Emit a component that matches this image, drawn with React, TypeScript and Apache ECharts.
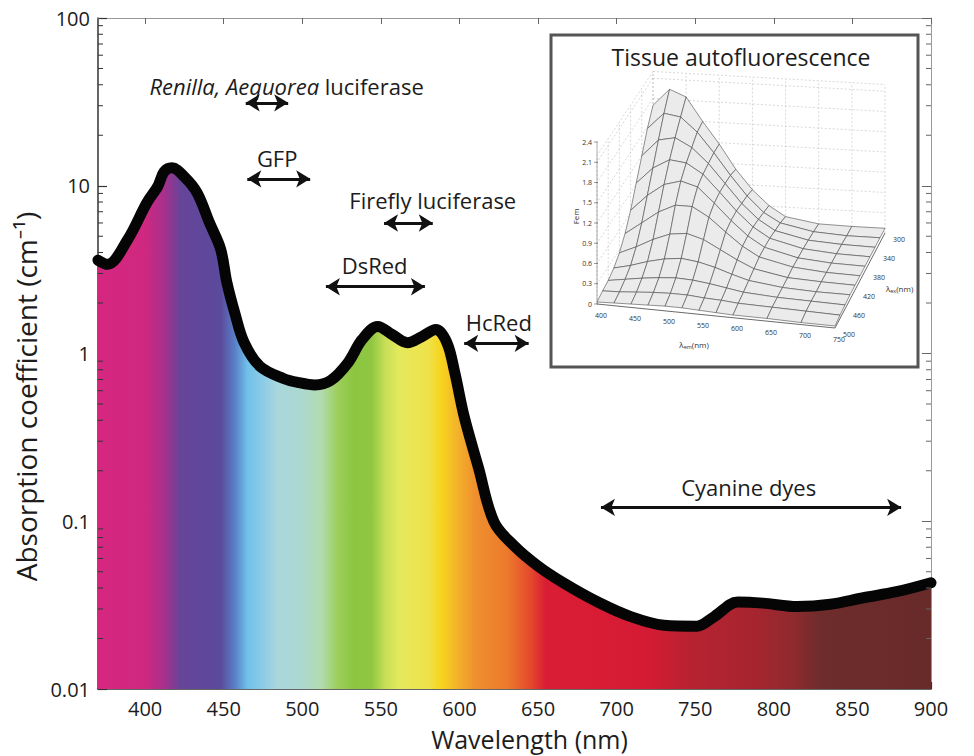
import React, { useEffect, useRef } from 'react';
import * as echarts from 'echarts';

const FONT = '"Open Sans", "Noto Sans", sans-serif';
const INK = '#1c1c1c';

// ---- main absorption curve (wavelength nm, absorption cm^-1) ----
const WAVELENGTH = [370, 376, 389, 401, 408, 412, 417, 425, 433, 441, 448, 452, 457, 463, 473, 488, 498, 508, 518, 529, 538, 548, 557, 567, 576, 585, 592, 597, 603, 612, 622, 635, 650, 666, 688, 709, 730, 751, 762, 777, 793, 815, 836, 857, 878, 900];
const ABSORPTION = [3.6, 3.4, 4.8, 7.9, 9.9, 12.1, 12.8, 11.3, 9.1, 6.0, 4.2, 2.65, 1.75, 1.16, 0.84, 0.71, 0.67, 0.65, 0.69, 0.88, 1.21, 1.45, 1.30, 1.16, 1.26, 1.39, 1.16, 0.77, 0.42, 0.21, 0.099, 0.071, 0.054, 0.043, 0.033, 0.027, 0.024, 0.0237, 0.027, 0.033, 0.0325, 0.031, 0.032, 0.035, 0.038, 0.043];

// ---- spectrum colours under the curve ----
const SPECTRUM_NM = [370, 400, 412, 423, 448, 457, 465, 476, 484, 500, 512, 522, 533, 544, 553, 562, 580, 588, 598, 610, 630, 645, 655, 720, 745, 790, 812, 830, 900];
const SPECTRUM_COLOR = ['#d6277f', '#cf2880', '#a8308c', '#654599', '#5b4a9c', '#5a7fc7', '#6fc0ea', '#8fcde6', '#a9d7dd', '#acd8cf', '#b3dbb0', '#9ccf5e', '#8cc63f', '#8fc743', '#c9df57', '#e5e95c', '#eee24a', '#f7d51f', '#f3b52a', '#ef902e', '#ec7a2c', '#e44a2c', '#d91d34', '#d51b34', '#b92230', '#a4252f', '#8f2a2e', '#6e2c2c', '#682b29'];

// ---- annotations ----
const ARROW_FROM = [464, 465, 552, 515, 603, 690];
const ARROW_TO = [491, 505, 583, 578, 644, 881];
const ARROW_Y = [31.2, 11.0, 6.0, 2.5, 1.15, 0.121];
const LABEL_TEXT = ['{i|Renilla, Aequorea} luciferase', 'GFP', 'Firefly luciferase', 'DsRed', 'HcRed', 'Cyanine dyes'];
const LABEL_X = [490, 484, 583, 546, 625, 784];
const LABEL_Y = [39.4, 14.7, 8.25, 3.39, 1.55, 0.159];

// ---- axis ticks ----
const X_MIN = 370;
const X_MAX = 900;
const Y_MIN = 0.01;
const Y_MAX = 100;
const DECADES = [0.01, 0.1, 1, 10];
const MINOR_MULT = [2, 3, 4, 5, 6, 7, 8, 9];
const MINOR_TICKS = DECADES.flatMap((d) => MINOR_MULT.map((m) => +(d * m).toPrecision(3)));

// ---- inset: tissue autofluorescence surface ----
const EM_POINTS = [400, 425, 450, 475, 500, 525, 550, 575, 600, 650, 700, 750];
const EX_ROWS = [300, 320, 340, 360, 380, 400, 420, 440, 460, 480, 500];
const SURFACE = [
  [1.7, 1.95, 1.85, 1.5, 1.18, 0.82, 0.53, 0.31, 0.16, 0.08, 0.07, 0.07],
  [1.48, 1.72, 1.68, 1.47, 1.18, 0.86, 0.57, 0.34, 0.2, 0.1, 0.07, 0.07],
  [1.2, 1.45, 1.5, 1.37, 1.15, 0.87, 0.59, 0.37, 0.22, 0.11, 0.08, 0.07],
  [0.92, 1.16, 1.3, 1.27, 1.12, 0.87, 0.61, 0.39, 0.24, 0.12, 0.08, 0.07],
  [0.64, 0.88, 1.06, 1.13, 1.06, 0.84, 0.6, 0.39, 0.24, 0.12, 0.08, 0.07],
  [0.42, 0.6, 0.78, 0.9, 0.9, 0.76, 0.56, 0.37, 0.23, 0.12, 0.08, 0.07],
  [0.26, 0.37, 0.5, 0.6, 0.63, 0.56, 0.43, 0.3, 0.19, 0.1, 0.08, 0.07],
  [0.16, 0.22, 0.3, 0.36, 0.39, 0.36, 0.3, 0.22, 0.15, 0.09, 0.07, 0.07],
  [0.1, 0.14, 0.18, 0.21, 0.23, 0.22, 0.19, 0.15, 0.11, 0.08, 0.07, 0.06],
  [0.07, 0.08, 0.1, 0.12, 0.13, 0.13, 0.11, 0.1, 0.08, 0.07, 0.06, 0.05],
  [0.03, 0.04, 0.05, 0.06, 0.07, 0.07, 0.06, 0.05, 0.04, 0.04, 0.03, 0.03],
];
const Z_TICKS = [0, 0.3, 0.6, 0.9, 1.2, 1.5, 1.8, 2.1, 2.4];
const EM_TICKS = [400, 450, 500, 550, 600, 650, 700, 750];
const EX_TICKS = [300, 340, 380, 420, 460, 500];

// inset projection layout (grid units inside the inset box)
const P_BL = [102, 185];
const P_BR = [334, 198];
const P_FL = [46, 269];
const P_FR = [284, 293];
const Z_SCALE = 67.5;
const WALL_TOP = 2.2;

const uOf = (em: number) => (em - 400) / 350;
const tOf = (ex: number) => (ex - 300) / 200;
function project(t: number, u: number, z: number): number[] {
  const x = P_BL[0] + u * (P_BR[0] - P_BL[0]) + t * (P_FL[0] - P_BL[0]) + u * t * (P_FR[0] - P_FL[0] - P_BR[0] + P_BL[0]);
  const y = P_BL[1] + u * (P_BR[1] - P_BL[1]) + t * (P_FL[1] - P_BL[1]) + u * t * (P_FR[1] - P_FL[1] - P_BR[1] + P_BL[1]);
  return [x, y - z * Z_SCALE];
}

function buildOption(): any {
  const stops = SPECTRUM_NM.map((nm, i) => ({ offset: (nm - X_MIN) / (X_MAX - X_MIN), color: SPECTRUM_COLOR[i] }));
  const gradient = new echarts.graphic.LinearGradient(0, 0, 1, 0, stops);

  const yFmt = (v: number) => String(Number(v.toPrecision(2)));
  const xFmt = (v: number) => (Math.round(v) % 50 === 0 ? String(Math.round(v)) : '');

  const wallLine = (a: number[], b: number[], api: any, stroke = '#bdbdbd', dash: any = [2, 2], w = 0.6) => {
    const p = api.coord(a);
    const q = api.coord(b);
    return { type: 'line', shape: { x1: p[0], y1: p[1], x2: q[0], y2: q[1] }, style: { stroke, lineWidth: w, lineDash: dash } };
  };

  const subRich = {
    a: { fontSize: 8, fill: '#333', fontFamily: FONT },
    b: { fontSize: 5.5, fill: '#333', verticalAlign: 'bottom', padding: [5, 0, 0, 0], fontFamily: FONT },
  };

  return {
    animation: false,
    backgroundColor: '#ffffff',
    textStyle: { fontFamily: FONT },
    graphic: [
      {
        type: 'text',
        x: 741,
        y: 57,
        z: 50,
        style: { text: 'Tissue autofluorescence', fontSize: 23, fontFamily: FONT, fill: INK, align: 'center', verticalAlign: 'middle' },
      },
    ],
    grid: [
      { left: 98, top: 18, right: 43, bottom: 66 },
      { left: 551, top: 35, width: 367, height: 332, show: true, backgroundColor: '#ffffff', borderColor: '#555', borderWidth: 3, z: 5 },
    ],
    xAxis: [
      {
        type: 'value', gridIndex: 0, min: X_MIN, max: X_MAX, splitNumber: 10, position: 'bottom',
        name: 'Wavelength (nm)', nameLocation: 'middle', nameGap: 37,
        nameTextStyle: { fontSize: 25, color: INK, fontFamily: FONT, padding: [0, 0, 0, 30] },
        axisLine: { show: true, onZero: false, lineStyle: { color: '#333', width: 1.5 } },
        axisTick: { inside: true, length: 7, lineStyle: { color: '#333', width: 1.2 } },
        axisLabel: { fontSize: 20, color: INK, margin: 9, showMinLabel: false, formatter: xFmt, fontFamily: FONT },
        splitLine: { show: false },
      },
      {
        type: 'value', gridIndex: 0, min: X_MIN, max: X_MAX, splitNumber: 10, position: 'top',
        axisLine: { show: true, onZero: false, lineStyle: { color: '#999', width: 1 } },
        axisTick: { inside: true, length: 6, lineStyle: { color: '#666' } },
        axisLabel: { show: false },
        splitLine: { show: false },
      },
      { type: 'value', gridIndex: 1, min: 0, max: 367, show: false },
    ],
    yAxis: [
      {
        type: 'log', gridIndex: 0, logBase: 10, min: Y_MIN, max: Y_MAX, position: 'left',
        name: 'Absorption coefficient (cm⁻¹)', nameLocation: 'middle', nameGap: 52, nameRotate: 90,
        nameTextStyle: { fontSize: 28, color: INK, fontFamily: FONT, padding: [0, 86, 0, 0] },
        axisLine: { show: true, onZero: false, lineStyle: { color: '#333', width: 1.5 } },
        axisTick: { inside: true, length: 9, lineStyle: { color: '#333', width: 1.2 } },
        axisLabel: { fontSize: 20, color: INK, margin: 8, formatter: yFmt, fontFamily: FONT },
        splitLine: { show: false },
      },
      {
        type: 'log', gridIndex: 0, logBase: 10, min: Y_MIN, max: Y_MAX, position: 'right',
        axisLine: { show: true, onZero: false, lineStyle: { color: '#999', width: 1 } },
        axisTick: { inside: true, length: 9, lineStyle: { color: '#666' } },
        axisLabel: { show: false },
        splitLine: { show: false },
      },
      { type: 'value', gridIndex: 1, min: 0, max: 332, inverse: true, show: false },
    ],
    series: [
      {
        type: 'line',
        xAxisIndex: 0,
        yAxisIndex: 0,
        data: WAVELENGTH.map((w, i) => [w, ABSORPTION[i]]),
        smooth: 0.35,
        symbol: 'none',
        showSymbol: false,
        z: 2,
        lineStyle: { color: '#050505', width: 11, cap: 'round', join: 'round' },
        areaStyle: { origin: 'start', color: gradient, opacity: 1 },
        markLine: {
          silent: true,
          symbol: ['arrow', 'arrow'],
          symbolSize: [13, 14],
          lineStyle: { color: '#111', width: 3, type: 'solid', opacity: 1 },
          label: { show: false },
          emphasis: { disabled: true },
          data: ARROW_FROM.map((f, i) => [
            { coord: [f, ARROW_Y[i]] },
            { coord: [ARROW_TO[i], ARROW_Y[i]] },
          ]),
        },
      },
      {
        type: 'scatter',
        xAxisIndex: 0,
        yAxisIndex: 0,
        silent: true,
        z: 4,
        symbolSize: 1,
        itemStyle: { color: 'rgba(0,0,0,0)', opacity: 1 },
        data: LABEL_TEXT.map((t, i) => ({ value: [LABEL_X[i], LABEL_Y[i]], name: t })),
        label: {
          show: true,
          position: 'inside',
          formatter: '{b}',
          fontSize: 22,
          color: INK,
          opacity: 1,
          fontFamily: FONT,
          rich: { i: { fontStyle: 'italic', fontSize: 22, color: INK, fontFamily: FONT } },
        },
      },
      {
        type: 'custom',
        xAxisIndex: 0,
        yAxisIndex: 0,
        silent: true,
        z: 3,
        clip: false,
        data: MINOR_TICKS.map((v) => [X_MIN, v]),
        renderItem: (_p: any, api: any) => {
          const v = api.value(1);
          const l = api.coord([X_MIN, v]);
          const r = api.coord([X_MAX, v]);
          return {
            type: 'group',
            children: [
              { type: 'line', shape: { x1: l[0], y1: l[1], x2: l[0] + 5, y2: l[1] }, style: { stroke: '#333', lineWidth: 1 } },
              { type: 'line', shape: { x1: r[0] - 5, y1: r[1], x2: r[0], y2: r[1] }, style: { stroke: '#666', lineWidth: 1 } },
            ],
          };
        },
      },
      // inset: box walls, axes, tick labels
      {
        type: 'custom',
        xAxisIndex: 2,
        yAxisIndex: 2,
        silent: true,
        z: 6,
        data: [[0, 0]],
        renderItem: (_p: any, api: any) => {
          const ch: any[] = [];
          EM_TICKS.forEach((em) => {
            const u = uOf(em);
            ch.push(wallLine(project(0, u, 0), project(0, u, WALL_TOP), api));
          });
          Z_TICKS.filter((z) => z <= WALL_TOP).concat([WALL_TOP]).forEach((z) => {
            ch.push(wallLine(project(0, 0, z), project(0, 1, z), api));
            ch.push(wallLine(project(0, 0, z), project(1, 0, z), api));
          });
          EX_TICKS.forEach((ex) => {
            const t = tOf(ex);
            ch.push(wallLine(project(t, 0, 0), project(t, 0, WALL_TOP), api));
          });
          ch.push(wallLine(project(1, 0, 0), project(1, 1, 0), api, '#444', null, 0.8));
          ch.push(wallLine(project(0, 1, 0), project(1, 1, 0), api, '#444', null, 0.8));
          ch.push(wallLine(project(1, 0, 0), project(1, 0, 2.4), api, '#777', null, 0.6));
          Z_TICKS.forEach((z) => {
            const p = api.coord(project(1, 0, z));
            ch.push({ type: 'line', shape: { x1: p[0] - 3, y1: p[1], x2: p[0] + 1, y2: p[1] }, style: { stroke: '#555', lineWidth: 0.6 } });
            ch.push({ type: 'text', x: p[0] - 5, y: p[1], style: { text: String(z), fontSize: 7, fill: '#333', align: 'right', verticalAlign: 'middle', fontFamily: FONT } });
          });
          EM_TICKS.forEach((em) => {
            const p = api.coord(project(1, uOf(em), 0));
            ch.push({ type: 'text', x: p[0] + 4, y: p[1] + 11, style: { text: String(em), fontSize: 7, fill: '#333', align: 'center', verticalAlign: 'middle', fontFamily: FONT } });
          });
          EX_TICKS.forEach((ex) => {
            const p = api.coord(project(tOf(ex), 1, 0));
            ch.push({ type: 'text', x: p[0] + 8, y: p[1] + 6, style: { text: String(ex), fontSize: 7, fill: '#333', align: 'left', verticalAlign: 'middle', fontFamily: FONT } });
          });
          const emName = api.coord(project(1, 0.45, 0));
          ch.push({ type: 'text', x: emName[0] - 10, y: emName[1] + 30, style: { text: '{a|λ}{b|em}{a|(nm)}', rich: subRich, align: 'center', verticalAlign: 'middle' } });
          const exName = api.coord(project(0.5, 1, 0));
          ch.push({ type: 'text', x: exName[0] + 26, y: exName[1] + 8, style: { text: '{a|λ}{b|ex}{a|(nm)}', rich: subRich, align: 'left', verticalAlign: 'middle' } });
          const fName = api.coord(project(1, 0, 1.3));
          ch.push({ type: 'text', x: fName[0] - 22, y: fName[1], rotation: Math.PI / 2, style: { text: 'Fem', fontSize: 8, fill: '#333', align: 'center', verticalAlign: 'middle', fontFamily: FONT } });
          return { type: 'group', children: ch };
        },
      },
      // inset: surface strips, back to front
      {
        type: 'custom',
        xAxisIndex: 2,
        yAxisIndex: 2,
        silent: true,
        z: 7,
        data: EX_ROWS.slice(1).map((_ex, i) => [i + 1, 0]),
        renderItem: (_p: any, api: any) => {
          const r = api.value(0);
          const back = SURFACE[r - 1];
          const front = SURFACE[r];
          const t0 = tOf(EX_ROWS[r - 1]);
          const t1 = tOf(EX_ROWS[r]);
          const ch: any[] = [];
          for (let j = 0; j < EM_POINTS.length - 1; j++) {
            const u0 = uOf(EM_POINTS[j]);
            const u1 = uOf(EM_POINTS[j + 1]);
            const pts = [
              project(t0, u0, back[j]),
              project(t0, u1, back[j + 1]),
              project(t1, u1, front[j + 1]),
              project(t1, u0, front[j]),
            ].map((p) => api.coord(p));
            ch.push({ type: 'polygon', shape: { points: pts }, style: { fill: '#ebebeb', stroke: '#4a4a4a', lineWidth: 0.6 } });
          }
          return { type: 'group', children: ch };
        },
      },
    ],
  };
}

export default function App() {
  const ref = useRef<HTMLDivElement>(null);
  useEffect(() => {
    if (!ref.current) return;
    const chart = echarts.init(ref.current, undefined, { renderer: 'svg' });
    chart.setOption(buildOption());
    return () => chart.dispose();
  }, []);
  return (
    <div
      ref={ref}
      style={{ position: 'fixed', left: 0, top: 0, width: 974, height: 756, background: '#fff' }}
    />
  );
}
